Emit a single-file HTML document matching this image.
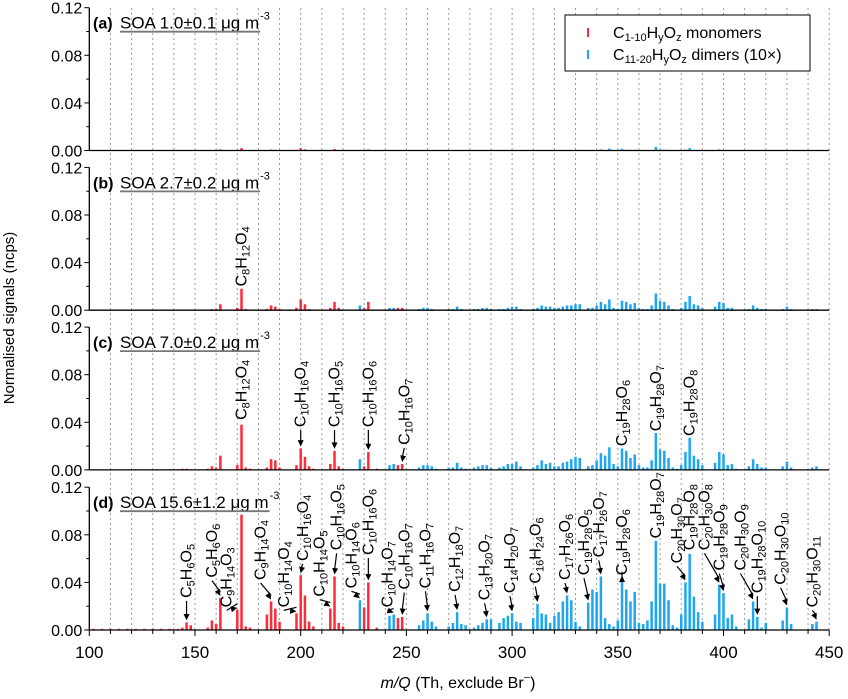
<!DOCTYPE html>
<html><head><meta charset="utf-8"><style>
html,body{margin:0;padding:0;background:#fff;}
svg{display:block;font-family:"Liberation Sans",Arial,sans-serif;}
</style></head><body>
<svg id="chart" width="848" height="699" viewBox="0 0 848 699" xmlns="http://www.w3.org/2000/svg">
<g id="grid"></g>
<g id="bars"></g>
<g id="axes"></g>
<g id="ann"></g>
<g>
<rect x="565" y="15" width="245" height="56" fill="#fff" stroke="#000" stroke-width="1"/>
<line x1="588" y1="28" x2="588" y2="37" stroke="#ff2a3a" stroke-width="2"/>
<text x="613" y="38" font-size="16">C<tspan font-size="11" dy="3">1-10</tspan><tspan dy="-3">H</tspan><tspan font-size="11" dy="3">y</tspan><tspan dy="-3">O</tspan><tspan font-size="11" dy="3">z</tspan><tspan dy="-3"> monomers</tspan></text>
<line x1="588" y1="50" x2="588" y2="59" stroke="#1ea7f0" stroke-width="2"/>
<text x="613" y="60" font-size="16">C<tspan font-size="11" dy="3">11-20</tspan><tspan dy="-3">H</tspan><tspan font-size="11" dy="3">y</tspan><tspan dy="-3">O</tspan><tspan font-size="11" dy="3">z</tspan><tspan dy="-3"> dimers (10×)</tspan></text>
</g>
<text x="14" y="318" font-size="15" text-anchor="middle" transform="rotate(-90 14 318)">Normalised signals (ncps)</text>
<text x="458" y="688" font-size="16" text-anchor="middle"><tspan font-style="italic">m/Q</tspan> (Th, exclude Br<tspan font-size="11" dy="-7">−</tspan><tspan dy="7">)</tspan></text>
</svg>
<script>
const NS="http://www.w3.org/2000/svg";
const xTicks=[100,150,200,250,300,350,400,450];
const yTicks=[0,0.04,0.08,0.12];
const yTickLabels=["0.00","0.04","0.08","0.12"];
const panelLetters=["(a)","(b)","(c)","(d)"];
const panelSOA=["SOA 1.0±0.1 μg m","SOA 2.7±0.2 μg m","SOA 7.0±0.2 μg m","SOA 15.6±1.2 μg m"];
const monoMz=[102,106,110,114,118,122,126,130,134,138,142,144,146,148,156,158,160,162,170,172,174,176,184,186,188,190,198,200,202,204,206,214,216,218,220,230,232,236,246,248];
const dimMz=[228,242,244,256,258,260,262,264,270,272,274,276,278,282,284,286,288,290,294,296,298,300,302,304,310,312,314,316,318,320,322,324,326,328,330,332,336,338,340,342,344,346,348,350,352,354,356,358,360,362,364,366,368,370,372,374,376,378,380,382,384,386,388,390,396,398,400,402,404,406,412,414,416,418,420,428,430,432,442,444];
const monoA=[.0003,.0003,.0003,.0003,.0003,.0003,.0003,.0003,.0003,.0003,.0003,.0003,.0003,.0002,.0003,.0004,.0003,.001,.0005,.002,.0003,.0002,.0003,.0008,.0006,.0003,.0005,.002,.001,.0003,.0002,.0004,.0012,.0003,.0002,.0003,.001,.0002,.0003,.0003];
const dimA=[.0004,.0002,.0002,.0001,.0002,.0002,.0001,.0001,.0001,.0001,.0003,.0001,.0001,.0001,.0001,.0002,.0002,.0001,.0001,.0001,.0002,.0003,.0003,.0001,.0001,.0002,.0004,.0003,.0003,.0002,.0002,.0003,.0004,.0004,.0005,.0005,.0002,.0002,.0004,.001,.0005,.0015,.0002,.0001,.0015,.0007,.0005,.0006,.0002,.0001,.0001,.0004,.003,.0008,.0007,.0004,.0001,.0001,.0002,.0007,.002,.0005,.0004,.0002,.0003,.001,.0006,.0002,.0002,.0001,.0001,.0004,.0002,.0001,.0001,.0001,.0003,.0001,.0001,.0001];
const monoB=[.0003,.0003,.0003,.0003,.0003,.0003,.0003,.0003,.0003,.0003,.0003,.0005,.0005,.0003,.0005,.001,.001,.005,.002,.018,.001,.0005,.001,.004,.003,.001,.002,.009,.005,.001,.0005,.002,.007,.002,.0005,.002,.007,.0005,.002,.002];
const dimB=[.004,.002,.002,.001,.002,.002,.001,.0005,.001,.001,.003,.001,.0005,.001,.001,.002,.002,.001,.001,.001,.002,.003,.003,.001,.001,.002,.004,.003,.003,.002,.002,.003,.004,.004,.005,.005,.002,.002,.004,.007,.005,.009,.002,.001,.008,.007,.005,.006,.002,.001,.001,.004,.014,.008,.007,.004,.001,.0005,.002,.007,.012,.005,.004,.002,.003,.007,.006,.002,.002,.0005,.001,.004,.002,.001,.001,.001,.003,.001,.001,.001];
const monoC=[.0005,.0005,.0005,.0005,.0005,.0005,.0005,.0005,.0005,.0005,.0005,.001,.001,.0005,.001,.003,.002,.012,.004,.038,.002,.001,.002,.009,.008,.002,.004,.018,.011,.003,.001,.005,.016,.003,.001,.003,.015,.001,.004,.005];
const dimC=[.009,.004,.005,.002,.004,.004,.003,.001,.002,.002,.006,.002,.001,.002,.003,.004,.004,.002,.002,.003,.005,.005,.007,.003,.002,.004,.008,.005,.006,.003,.003,.006,.007,.009,.011,.010,.003,.004,.008,.014,.012,.019,.005,.003,.018,.016,.010,.013,.004,.002,.002,.008,.031,.017,.016,.010,.002,.001,.004,.015,.027,.012,.009,.004,.006,.015,.013,.004,.005,.001,.003,.009,.005,.002,.002,.003,.007,.002,.002,.003];
const monoD=[.001,.001,.001,.001,.001,.001,.001,.001,.001,.001,.001,.002,.0064,.004,.002,.008,.005,.027,.017,.097,.003,.002,.013,.024,.018,.007,.014,.046,.029,.007,.003,.018,.045,.006,.003,.019,.040,.002,.010,.011];
const dimD=[.025,.012,.013,.004,.008,.014,.007,.003,.003,.006,.015,.005,.004,.002,.004,.006,.009,.009,.006,.010,.012,.014,.007,.006,.010,.022,.014,.013,.006,.012,.015,.024,.029,.025,.007,.003,.023,.034,.032,.045,.010,.005,.003,.008,.044,.034,.024,.032,.006,.005,.008,.024,.075,.039,.039,.025,.004,.002,.013,.040,.064,.028,.015,.007,.013,.038,.031,.010,.013,.003,.009,.024,.011,.002,.006,.008,.019,.005,.005,.007];
const monoSeries=[monoA,monoB,monoC,monoD];
const dimSeries=[dimA,dimB,dimC,dimD];
const annFormula=["C8H12O4","C8H12O4","C10H16O4","C10H16O5","C10H16O6","C10H16O7","C19H28O6","C19H28O7","C19H28O8","C5H6O5","C5H6O6","C9H14O3","C9H14O4","C10H14O4","C10H16O4","C10H14O5","C10H16O5","C10H14O6","C10H16O6","C10H14O7","C10H16O7","C11H16O7","C12H18O7","C13H20O7","C14H20O7","C16H24O6","C17H26O6","C19H28O5","C17H26O7","C19H28O6","C19H28O7","C20H30O7","C19H28O8","C20H30O8","C19H28O9","C20H30O9","C19H28O10","C20H30O10","C20H30O11"];
const annPanel=[1,2,2,2,2,2,2,2,2,3,3,3,3,3,3,3,3,3,3,3,3,3,3,3,3,3,3,3,3,3,3,3,3,3,3,3,3,3,3];
const annPeak=[172,172,200,216,232,248,352,368,384,146,162,170,186,198,200,214,216,228,232,244,248,260,274,288,300,312,326,336,342,352,368,382,384,398,400,414,416,430,444];
const annTextMz=[172,172,200,216,232,249,352,368,384,146,158,165,181,192,201,209,217,224,232,241,249,259,273,287,299,311,325,334,341,352,368,378,384,391,398,408,416,427,442];
const annTextV=[.02,.042,.036,.036,.036,.021,.02,.0325,.0285,.027,.044,.019,.042,.019,.058,.028,.067,.035,.063,.019,.034,.035,.032,.025,.031,.039,.042,.046,.061,.046,.077,.056,.067,.067,.05,.05,.031,.038,.019];
const annArrow=[0,0,1,1,1,1,0,0,0,1,1,1,1,1,1,1,1,1,1,1,1,1,1,1,1,1,1,1,1,1,0,1,0,1,1,1,1,1,1];

const X0=89.3, PX=2.114;
const zeros=[150.5,310.2,469.9,630];
const HGT=142.8;
function xS(m){return X0+(m-100)*PX;}
function yS(v,p){return zeros[p]-v/0.12*HGT;}
function mk(tag,attrs,parent){const e=document.createElementNS(NS,tag);for(const k in attrs)e.setAttribute(k,attrs[k]);parent.appendChild(e);return e;}
const grid=document.getElementById('grid'),bars=document.getElementById('bars'),axes=document.getElementById('axes'),ann=document.getElementById('ann');
for(let m=110;m<=450;m+=10){
  const l=mk('line',{x1:xS(m),x2:xS(m),y1:8,y2:630,stroke:'#999','stroke-width':1,'stroke-dasharray':'2,3'},grid);
  
  
}
for(let p=0;p<4;p++){
  const ms=monoSeries[p], ds=dimSeries[p];
  for(let i=0;i<monoMz.length;i++){
    const r=mk('rect',{x:xS(monoMz[i])-1.25,y:yS(ms[i],p),width:2.5,height:zeros[p]-yS(ms[i],p),fill:'#ff2a3a'},bars);
    
    
  }
  for(let i=0;i<dimMz.length;i++){
    const r=mk('rect',{x:xS(dimMz[i])-1.25,y:yS(ds[i],p),width:2.5,height:zeros[p]-yS(ds[i],p),fill:'#1ea7f0'},bars);
    
    
  }
}
for(let p=0;p<4;p++){
  const top=yS(0.12,p);
  const ya=mk('line',{x1:X0,x2:X0,y1:top,y2:zeros[p],stroke:'#000','stroke-width':1.3},axes);
  
  
  const xa=mk('line',{x1:X0,x2:xS(450),y1:zeros[p],y2:zeros[p],stroke:'#000','stroke-width':1.3},axes);
  
  
  for(let v=0.02;v<0.12;v+=0.04){
    mk('line',{x1:X0-3,x2:X0,y1:yS(v,p),y2:yS(v,p),stroke:'#000'},axes);
  }
  yTicks.forEach((v,i)=>{
    mk('line',{x1:X0-5,x2:X0,y1:yS(v,p),y2:yS(v,p),stroke:'#000'},axes);
    const t=mk('text',{x:X0-7,y:yS(v,p)+6,'font-size':16,'text-anchor':'end'},axes);
    t.textContent=yTickLabels[i];
    
    
  });
  const ty=yS(0.12,p)+21;
  const lt=mk('text',{x:93,y:ty,'font-size':16,'font-weight':'bold'},axes);
  lt.textContent=panelLetters[p];
  
  
  const st=mk('text',{x:120,y:ty,'font-size':17},axes);
  st.textContent=panelSOA[p];
  
  
  const w=st.getComputedTextLength();
  const sup=mk('text',{x:120+w+1,y:ty-9,'font-size':11},axes);
  sup.textContent='-3';
  
  
  const ul=mk('line',{x1:120,x2:120+w+1,y1:ty+3,y2:ty+3,stroke:'#777','stroke-width':1.8},axes);
  
  
}
for(let m=100;m<=450;m+=10){
  const major=(m%50===0);
  mk('line',{x1:xS(m),x2:xS(m),y1:630,y2:630+(major?6:4),stroke:'#000'},axes);
}
xTicks.forEach(m=>{
  const t=mk('text',{x:xS(m),y:658,'font-size':17,'text-anchor':'middle'},axes);
  t.textContent=String(m);
  
  
});
function addFormula(parent,f,x,y){
  const t=mk('text',{x:x,y:y,'font-size':16,transform:'rotate(-90 '+x+' '+y+')'},parent);
  const parts=f.match(/[A-Z][a-z]?|\d+/g);
  let sub=false;
  parts.forEach(s=>{
    const isNum=/\d/.test(s);
    const ts=document.createElementNS(NS,'tspan');
    if(isNum){ts.setAttribute('font-size','11');if(!sub){ts.setAttribute('dy','3');sub=true;}}
    else if(sub){ts.setAttribute('dy','-3');sub=false;}
    ts.textContent=s;t.appendChild(ts);
  });
  return t;
}
function peakVal(m,p){
  const i=monoMz.indexOf(m);
  if(i>=0) return monoSeries[p][i];
  return dimSeries[p][dimMz.indexOf(m)];
}
for(let i=0;i<annFormula.length;i++){
  const p=annPanel[i];
  const g=mk('g',{},ann);
  
  
  const tx=xS(annTextMz[i]);
  const tb=yS(annTextV[i],p);
  addFormula(g,annFormula[i],tx+5,tb);
  if(annArrow[i]){
    const px=xS(annPeak[i]);
    const ey=yS(peakVal(annPeak[i],p),p)-2, sy=tb+3;
    const sx=tx;
    mk('line',{x1:sx,y1:sy,x2:px,y2:ey-4,stroke:'#000','stroke-width':1.2},g);
    const ang=Math.atan2(ey-sy,px-sx);
    const a1=ang+2.7,a2=ang-2.7;
    mk('polygon',{points:px+','+ey+' '+(px+7*Math.cos(a1))+','+(ey+7*Math.sin(a1))+' '+(px+7*Math.cos(a2))+','+(ey+7*Math.sin(a2)),fill:'#000'},g);
  }
}
</script>
</body></html>
